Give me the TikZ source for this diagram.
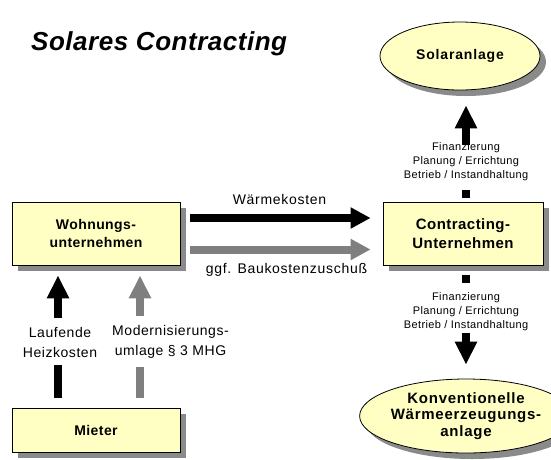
\documentclass[tikz,border=0pt]{standalone}
\usepackage{fontspec}
\setmainfont{Liberation Sans}
\usetikzlibrary{arrows.meta,shadows,shapes.geometric}
\definecolor{boxfill}{HTML}{FFFFC4}
\definecolor{shade}{HTML}{8A8A8A}
\definecolor{arrgray}{HTML}{7F7F7F}
\begin{document}
\begin{tikzpicture}[x=1pt,y=-1pt,
  dshadow/.style={drop shadow={shadow xshift=6pt, shadow yshift=-6pt, fill=shade, opacity=1}},
  box/.style={draw=black, line width=0.8pt, fill=boxfill, minimum width=168pt, minimum height=63pt,
    align=center, font=\fontsize{14}{18}\selectfont\bfseries\addfontfeatures{LetterSpace=3}, dshadow},
  oval/.style={ellipse, draw=black, line width=0.8pt, fill=boxfill, inner sep=0pt, align=center,
    font=\fontsize{15}{16.5}\selectfont\bfseries\addfontfeatures{LetterSpace=5}, dshadow},
  lbl/.style={font=\fontsize{14}{20}\selectfont\addfontfeatures{LetterSpace=4}, align=center, inner sep=0pt},
  small/.style={font=\fontsize{11}{14}\selectfont\addfontfeatures{LetterSpace=3.5}, align=center, inner sep=0pt},
  blk/.style={line width=8pt, draw=black},
  gry/.style={line width=8pt, draw=arrgray},
  tipv/.style={-{Triangle[width=21pt,length=23pt]}},
  tiph/.style={-{Triangle[width=20pt,length=20pt]}},
  titlestyle/.style={font=\fontsize{26}{30}\selectfont\bfseries\itshape\addfontfeatures{LetterSpace=2}, inner sep=0pt}
]
\useasboundingbox (0,0) rectangle (551,459);

\node[titlestyle, anchor=west] (title) at (31,44) {Solares Contracting};

\node[box] (wohn) at (96,233.5) {Wohnungs-\\unternehmen};
\node[box, minimum height=44pt] (mieter) at (96,430) {Mieter};
\node[box, minimum width=160pt, font=\fontsize{15}{19}\selectfont\bfseries\addfontfeatures{LetterSpace=3}] (contr) at (463,233.5) {Contracting-\\Unternehmen};
\node[oval, minimum width=160pt, minimum height=68pt, font=\fontsize{14}{16.5}\selectfont\bfseries\addfontfeatures{LetterSpace=6}] (solar) at (460,56) {Solaranlage};
\node[oval, minimum width=160pt, minimum height=74pt] (konv) at (466,416) {Konventionelle\\Wärmeerzeugungs-\\anlage};

\node[lbl, font=\fontsize{14}{20}\selectfont\addfontfeatures{LetterSpace=5}] (wk) at (279.5,199) {Wärmekosten};
\node[lbl, font=\fontsize{14}{20}\selectfont\addfontfeatures{LetterSpace=5}] (bk) at (286.5,270) {ggf. Baukostenzuschuß};
\node[lbl] (lauf) at (60,342) {Laufende\\Heizkosten};
\node[lbl] (mod) at (170.5,342) {Modernisierungs-\\umlage § 3 MHG};
\node[small] (fin1) at (466,162) {Finanzierung\\Planung / Errichtung\\Betrieb / Instandhaltung};
\node[small] (fin2) at (466,312) {Finanzierung\\Planung / Errichtung\\Betrieb / Instandhaltung};

% x positions of the two left vertical arrows
\coordinate (ax1) at ([xshift=-38pt]wohn.south);
\coordinate (ax2) at ([xshift=44pt]wohn.south);

% horizontal arrows
\draw[blk,tiph,shorten <=10pt,shorten >=12pt] ([yshift=15.5pt]wohn.east) -- ([yshift=15.5pt]contr.west);
\draw[gry,tiph,shorten <=10pt,shorten >=12pt] ([yshift=-16pt]wohn.east) -- ([yshift=-16pt]contr.west);

% left vertical arrows
\draw[blk,tipv,shorten <=9pt,shorten >=10pt] (ax1 |- lauf.north) -- (ax1);
\draw[blk,shorten <=10pt,shorten >=8pt] (ax1 |- mieter.north) -- (ax1 |- lauf.south);
\draw[gry,tipv,shorten <=9pt,shorten >=10pt] (ax2 |- mod.north) -- (ax2);
\draw[gry,shorten <=10pt,shorten >=8pt] (ax2 |- mieter.north) -- (ax2 |- mod.south);

% right vertical arrows
\draw[blk,tipv,shorten <=-2.5pt,shorten >=15pt] (fin1.north) -- (fin1.north |- solar.south);
\draw[blk,shorten <=4pt,shorten >=8.5pt] (fin1.south |- contr.north) -- (fin1.south);
\draw[blk,shorten <=10pt,shorten >=9.5pt] (fin2.north |- contr.south) -- (fin2.north);
\draw[blk,tipv,shorten <=1.5pt,shorten >=14pt] (fin2.south) -- (fin2.south |- konv.north);
\end{tikzpicture}
\end{document}
